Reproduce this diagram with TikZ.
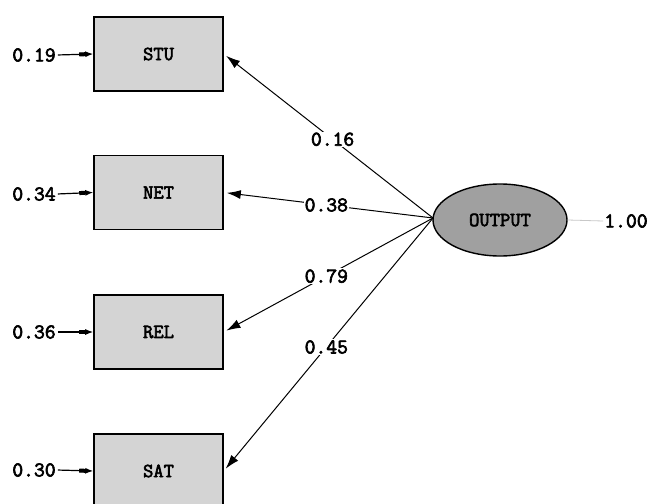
\documentclass[tikz,border=0pt]{standalone}
\usepackage{fontspec}
\setmonofont[AutoFakeBold=3]{Latin Modern Mono}
\usetikzlibrary{shapes.geometric,arrows.meta}
\definecolor{boxgray}{RGB}{212,212,212}
\definecolor{ellgray}{RGB}{160,160,160}
\definecolor{faint}{RGB}{200,200,200}
\tikzset{
  var/.style={draw=black, line width=1.6pt, fill=boxgray, minimum width=129pt, minimum height=74pt, inner sep=0pt, font=\ttfamily\bfseries\fontsize{20}{20}\selectfont},
  lat/.style={ellipse, draw=black, line width=1.4pt, fill=ellgray, minimum width=134pt, minimum height=72pt, inner sep=0pt, font=\ttfamily\bfseries\fontsize{20}{20}\selectfont},
  val/.style={font=\ttfamily\bfseries\fontsize{21}{21}\selectfont, inner sep=1pt},
  lbl/.style={font=\ttfamily\bfseries\fontsize{21}{21}\selectfont, fill=white, inner sep=1pt},
  pathar/.style={line width=1pt, -{Latex[length=14pt,width=9pt]}, shorten >=3pt},
  err/.style={line width=1.2pt, -{Rectangle[length=6pt,width=4pt]Latex[length=8pt,width=6pt]}, shorten <=1pt},
}
\begin{document}
\begin{tikzpicture}[x=1pt,y=-1pt]
\clip (0,0) rectangle (652,503);
\fill[white] (0,0) rectangle (652,503);
\node[var] (stu) at (158.5,54) {STU};
\node[var] (net) at (158.5,192.5) {NET};
\node[var] (rel) at (158.5,332) {REL};
\node[var] (sat) at (158.5,471) {SAT};
\node[lat] (out) at (500,220) {OUTPUT};
\coordinate (src) at (433,218);
\node[val] (e1) at (34,55) {0.19};
\node[val] (e2) at (34,194) {0.34};
\node[val] (e3) at (34,332) {0.36};
\node[val] (e4) at (34,470) {0.30};
\node[val] (ev) at (626,221) {1.00};
\draw[err] (e1.east) -- (stu.west);
\draw[err] (e2.east) -- (net.west);
\draw[err] (e3.east) -- (rel.west);
\draw[err] (e4.east) -- (sat.west);
\draw[faint, line width=0.8pt] (out.east) -- (ev.west);
\draw[pathar] (src) -- node[lbl, pos=0.48] {0.16} (stu.east);
\draw[pathar] (src) -- node[lbl, pos=0.51] {0.38} (net.east);
\draw[pathar] (src) -- node[lbl, pos=0.51] {0.79} (rel.east);
\draw[pathar] (src) -- node[lbl, pos=0.51] {0.45} (sat.east);
\end{tikzpicture}
\end{document}
